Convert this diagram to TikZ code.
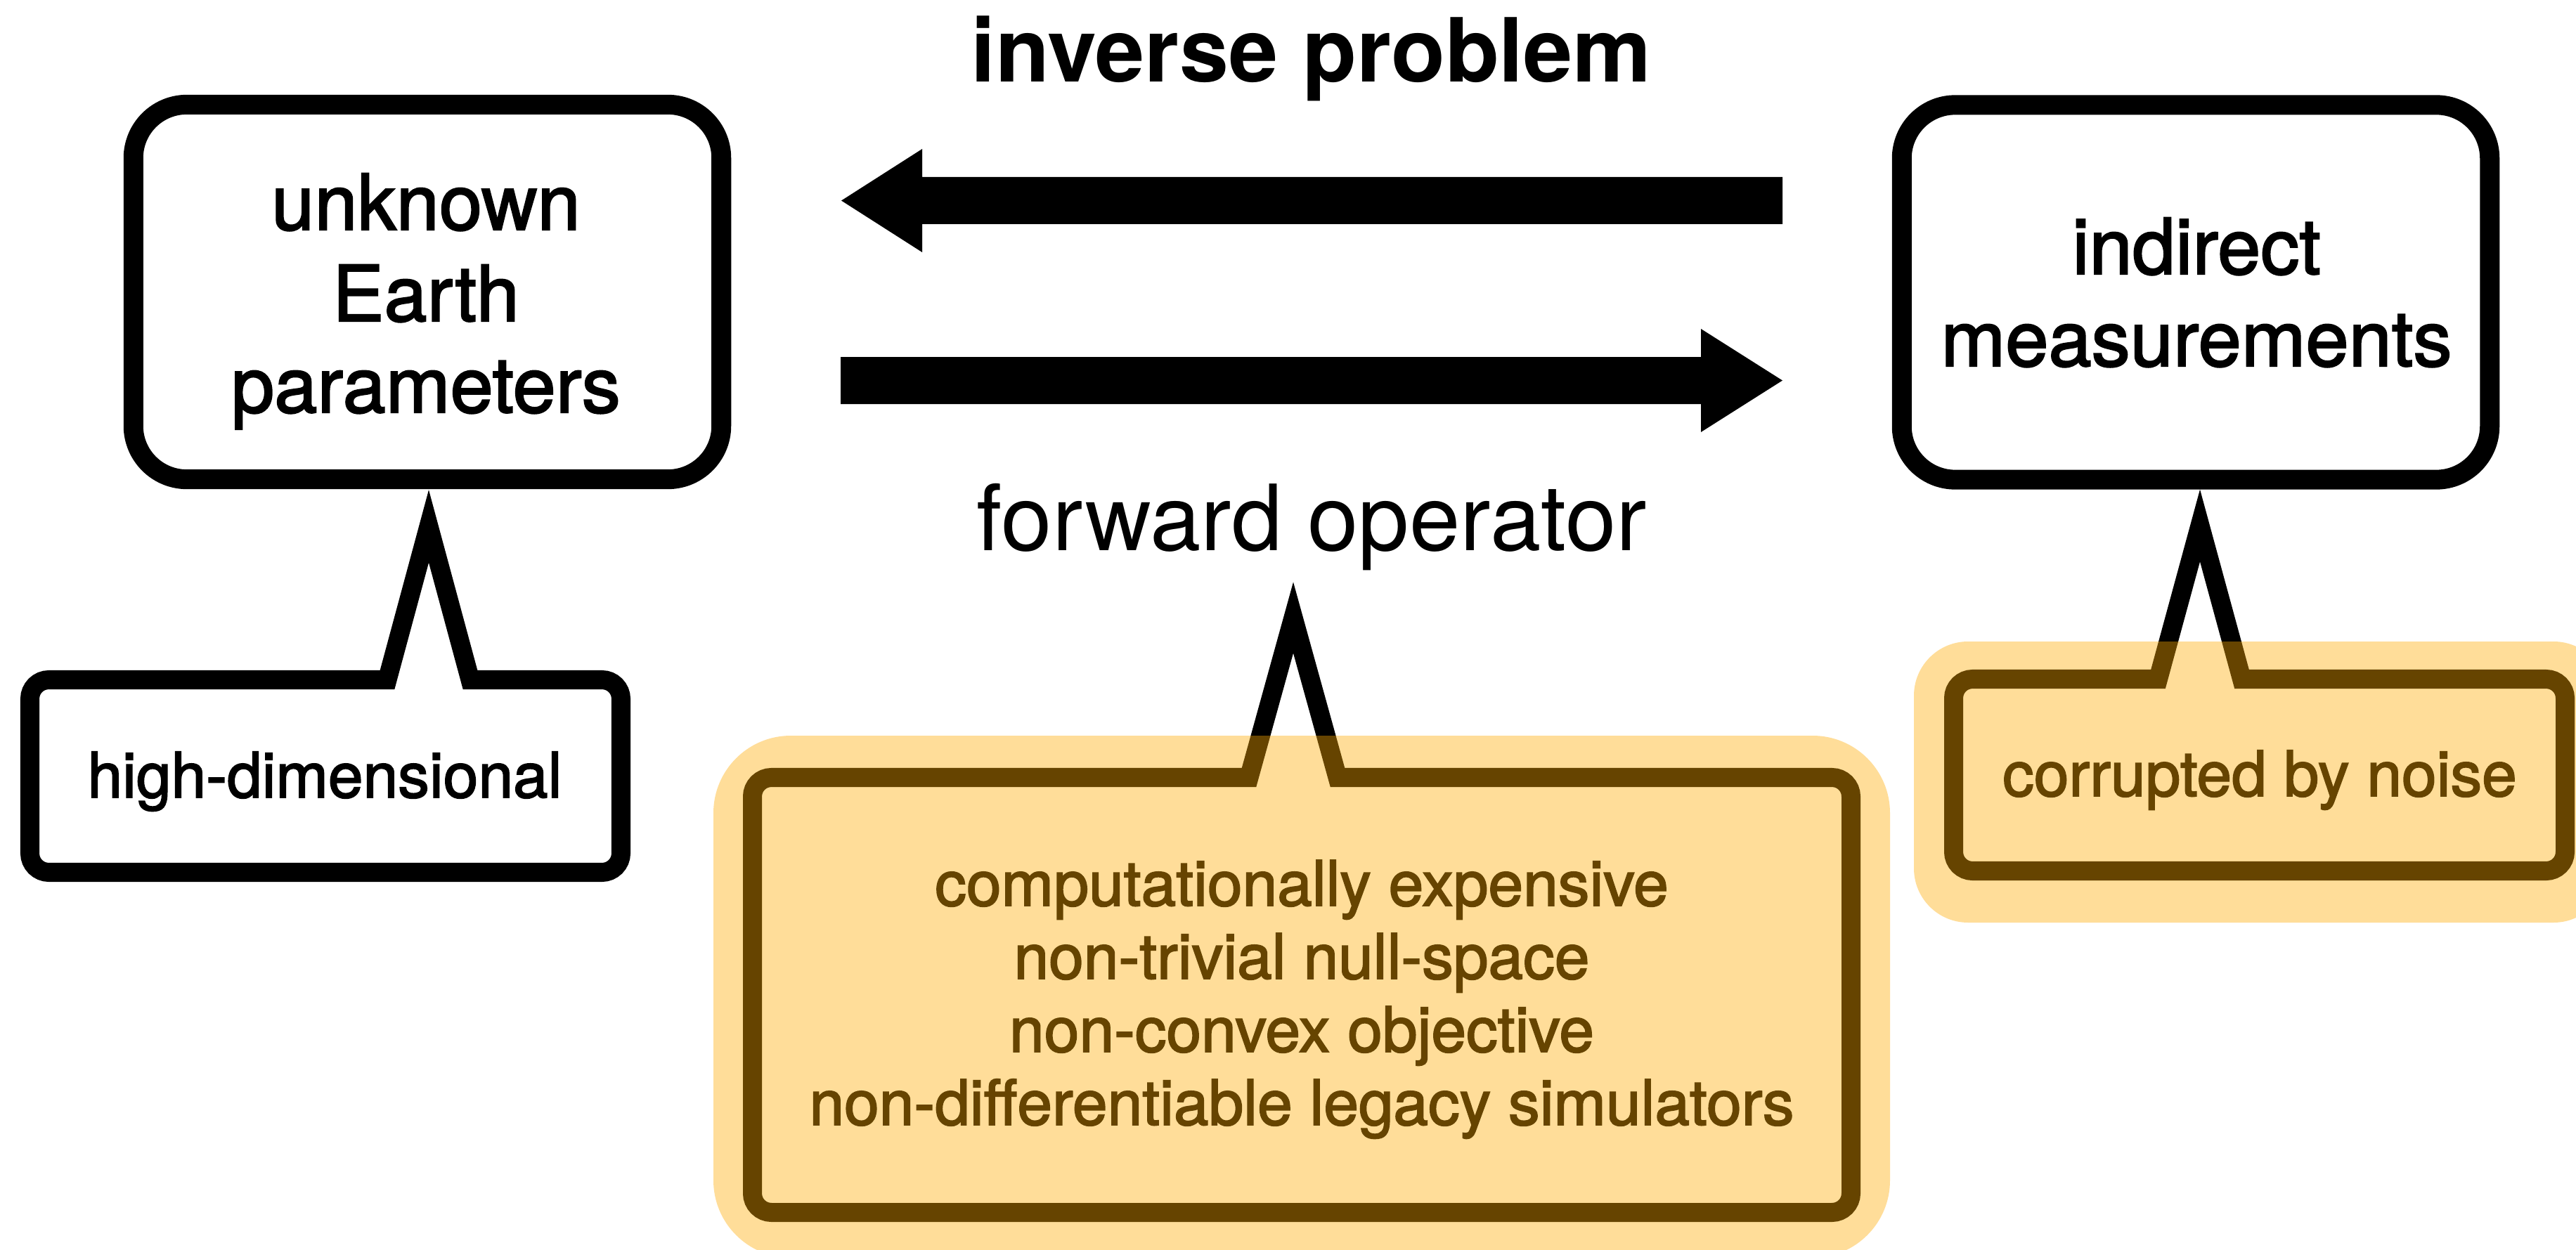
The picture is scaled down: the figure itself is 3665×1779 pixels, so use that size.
\documentclass[tikz,border=0pt]{standalone}
\usepackage{fontspec}
\setmainfont{TeX Gyre Heros}
\newfontfamily\heavyfont{TeX Gyre Heros}[FakeBold=2]
\definecolor{hl}{HTML}{FFAA00}
\tikzset{
  mainbox/.style={draw=black, line width=0.28cm, rounded corners=0.76cm, fill=white,
    minimum width=8.36cm, minimum height=5.33cm, inner sep=0pt},
  callout/.style={draw=black, line width=0.27cm, fill=white, line join=miter, miter limit=10},
  bigtxt/.style={font=\heavyfont\fontsize{31.3pt}{37pt}\selectfont, inner sep=0pt, anchor=base},
  smalltxt/.style={font=\heavyfont\fontsize{25.4pt}{30pt}\selectfont, inner sep=0pt, anchor=base},
  titletxt/.style={font=\fontsize{35.8pt}{42pt}\selectfont\bfseries, inner sep=0pt, anchor=base},
  fwdtxt/.style={font=\fontsize{37pt}{44pt}\selectfont, inner sep=0pt, anchor=base},
  hilite/.style={fill=hl, fill opacity=0.4, draw=none},
  blockarrow/.style={fill=black, draw=none},
}
\begin{document}
\begin{tikzpicture}[x=0.01cm, y=-0.01cm]
\useasboundingbox (0,0) rectangle (3665,1779);
\clip (0,0) rectangle (3665,1779);
\fill[white] (0,0) rectangle (3665,1779);

% title and label
\node[titletxt] (title) at (1865.5,117) {inverse problem};
\node[fwdtxt] (fwd) at (1866.5,783) {forward operator};

% main boxes
\node[mainbox] (lbox) at (608,415.5) {};
\node[mainbox] (rbox) at (3124,416) {};
\node[bigtxt] (l1) at (606,327) {unknown};
\node[bigtxt] (l2) at (606,457) {Earth};
\node[bigtxt] (l3) at (606,587) {parameters};
\node[bigtxt] (r1) at (3125,390) {indirect};
\node[bigtxt] (r2) at (3125,521) {measurements};

% block arrows
\coordinate (invTail) at (2536,285.5);
\coordinate (invTip) at (1197,285.5);
\fill[blockarrow] (2536,252) -- (1312,252) -- (1312,212) -- (invTip) -- (1312,359) -- (1312,319) -- (2536,319) -- cycle;
\coordinate (fwdTail) at (1196,541.5);
\coordinate (fwdTip) at (2536,541.5);
\fill[blockarrow] (1196,508) -- (2420,508) -- (2420,468) -- (fwdTip) -- (2420,615) -- (2420,575) -- (1196,575) -- cycle;

% callout 1
\draw[callout] (300,967.5) -- (551,967.5) -- (610,749) -- (669,967.5) -- (700,967.5)
  [rounded corners=0.27cm] -- (883.5,967.5) -- (883.5,1241.5) -- (42.5,1241.5) -- (42.5,967.5) -- cycle;
\node[smalltxt] (c1) at (462,1135) {high-dimensional};

% callout 2
\draw[callout] (1300,1106.5) -- (1777,1106.5) -- (1840,879) -- (1903,1106.5) -- (1950,1106.5)
  [rounded corners=0.27cm] -- (2633.5,1106.5) -- (2633.5,1725.5) -- (1070.5,1725.5) -- (1070.5,1106.5) -- cycle;
\node[smalltxt] (c2a) at (1852,1289) {computationally expensive};
\node[smalltxt] (c2b) at (1852,1393) {non-trivial null-space};
\node[smalltxt] (c2c) at (1852,1497) {non-convex objective};
\node[smalltxt] (c2d) at (1852,1601) {non-differentiable legacy simulators};

% callout 3
\draw[callout] (2900,966.5) -- (3070.5,966.5) -- (3130,748) -- (3189.5,966.5) -- (3230,966.5)
  [rounded corners=0.27cm] -- (3649.5,966.5) -- (3649.5,1239.5) -- (2779.5,1239.5) -- (2779.5,966.5) -- cycle;
\node[smalltxt] (c3) at (3215,1133) {corrupted by noise};

% highlights
\fill[hilite, rounded corners=1.1cm] (1015,1047) rectangle (2689,1790);
\fill[hilite, rounded corners=0.77cm] (2723,913) rectangle (3710,1313);
\end{tikzpicture}
\end{document}
